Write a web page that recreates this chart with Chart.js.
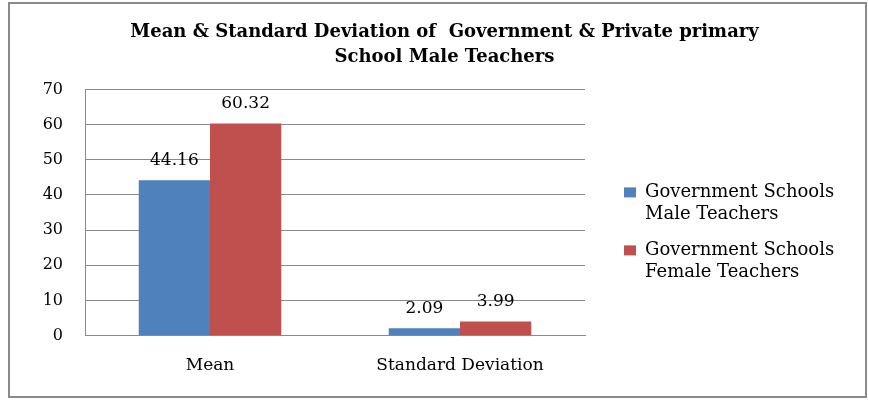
<!DOCTYPE html>
<html>
<head>
<meta charset="utf-8">
<script src="https://cdn.jsdelivr.net/npm/chart.js@4/dist/chart.umd.min.js"></script>
<style>
body{margin:0;background:#fff;}
#caixa{position:absolute;left:0;top:0;width:869px;height:401px;}
#borda{position:absolute;left:8px;top:2px;width:855px;height:392px;border:2px solid #8a8a8a;}
</style>
</head>
<body>
<div id="caixa">
<div id="borda"></div>
<canvas id="grafico" width="869" height="401"></canvas>
</div>
<script>
const categorias = ["Mean", "Standard Deviation"];
const series = ["Government Schools\nMale Teachers", "Government Schools\nFemale Teachers"];
const valoresMasculino = [44.16, 2.09];
const valoresFeminino = [60.32, 3.99];
const marcasY = [0, 10, 20, 30, 40, 50, 60, 70];
const cores = ["#4f81bd", "#c0504d"];

const fonte = "'DejaVu Serif', serif";

// escreve os valores em cima das barras
const rotulos = {
    id: "rotulos",
    afterDatasetsDraw(chart){
        const ctx = chart.ctx;
        ctx.save();
        ctx.font = "17px " + fonte;
        ctx.fillStyle = "#000";
        ctx.textAlign = "center";
        ctx.textBaseline = "middle";
        chart.data.datasets.forEach((ds, i) => {
            chart.getDatasetMeta(i).data.forEach((barra, j) => {
                ctx.fillText(ds.data[j].toFixed(2), barra.x, barra.y - 20);
            });
        });
        ctx.restore();
    }
};

// legenda desenhada a mao, a direita do grafico
const legenda = {
    id: "legenda",
    afterDraw(chart){
        const ctx = chart.ctx;
        const area = chart.chartArea;
        let x = area.right + 39;
        let y = area.top + 103;
        ctx.save();
        ctx.font = "18px " + fonte;
        ctx.textBaseline = "middle";
        ctx.textAlign = "left";
        chart.data.datasets.forEach((ds, i) => {
            ctx.fillStyle = ds.backgroundColor;
            ctx.fillRect(x, y - 5, 12, 10);
            ctx.fillStyle = "#000";
            ds.label.split("\n").forEach((linha, k) => {
                ctx.fillText(linha, x + 21, y + k * 22);
            });
            y += 58;
        });
        ctx.restore();
    }
};

const ctx = document.getElementById("grafico");

new Chart(ctx, {
    type: "bar",
    data: {
        labels: categorias,
        datasets: [{
            label: series[0],
            data: valoresMasculino,
            backgroundColor: cores[0]
        },{
            label: series[1],
            data: valoresFeminino,
            backgroundColor: cores[1]
        }]
    },
    options: {
        responsive: false,
        animation: false,
        datasets: {
            bar: { categoryPercentage: 0.57, barPercentage: 1.0 }
        },
        layout: { padding: { left: 20, right: 0, top: 20, bottom: 13 } },
        plugins: {
            title: {
                display: true,
                text: ["Mean & Standard Deviation of  Government & Private primary", "School Male Teachers"],
                color: "#000",
                font: { family: fonte, size: 18, weight: "bold", lineHeight: 1.4 },
                padding: { top: 0, bottom: 19 }
            },
            legend: { display: false },
            tooltip: { enabled: false }
        },
        scales: {
            x: {
                grid: { display: false },
                border: { color: "#8a8a8a" },
                ticks: { color: "#000", font: { family: fonte, size: 17 }, padding: 12 }
            },
            y: {
                min: 0,
                max: 70,
                afterFit(scale){ scale.width = 65; },
                afterBuildTicks(scale){ scale.ticks = marcasY.map(v => ({ value: v })); },
                grid: { color: "#8a8a8a", drawTicks: false },
                border: { color: "#8a8a8a" },
                ticks: { color: "#000", font: { family: fonte, size: 16 }, padding: 22 }
            },
            folga: {
                position: "right",
                display: true,
                afterFit(scale){ scale.width = 284; },
                grid: { display: false },
                border: { display: false },
                ticks: { display: false }
            }
        }
    },
    plugins: [rotulos, legenda]
});
</script>
</body>
</html>
